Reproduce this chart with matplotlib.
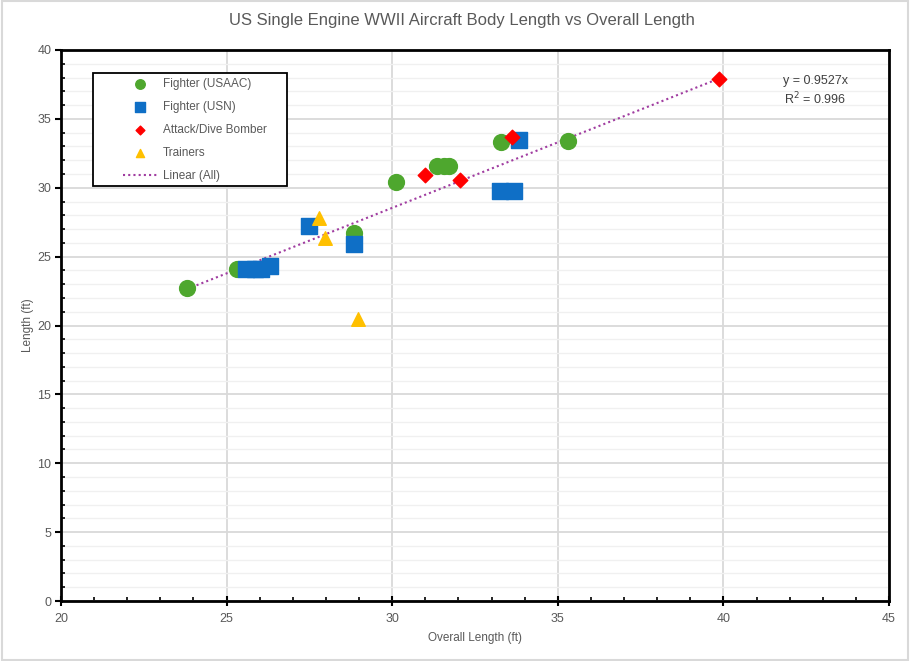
import numpy as np
import matplotlib.pyplot as plt
from matplotlib.patches import Rectangle
from matplotlib.ticker import MultipleLocator

plt.rcParams['font.family'] = ['Liberation Sans', 'DejaVu Sans']

# overall length (x) vs body length (y), in feet
usaac_x = [23.8, 25.3, 28.85, 30.1, 31.35, 31.55, 31.73, 33.3, 35.3]
usaac_y = [22.75, 24.1, 26.75, 30.4, 31.6, 31.6, 31.6, 33.3, 33.4]
usn_x = [25.6, 25.85, 26.05, 26.3, 27.5, 28.85, 33.25, 33.68, 33.83]
usn_y = [24.1, 24.1, 24.1, 24.3, 27.25, 25.95, 29.8, 29.8, 33.45]
bomber_x = [31.0, 32.05, 33.62, 39.87]
bomber_y = [30.95, 30.55, 33.65, 37.9]
trainer_x = [27.8, 27.97, 28.97]
trainer_y = [27.8, 26.35, 20.5]

grey = '#595959'

fig = plt.figure(figsize=(9.1, 6.61), dpi=100)
ax = fig.add_axes([61 / 910, 1 - 601 / 661, 828 / 910, 551 / 661])

ax.scatter(usaac_x, usaac_y, s=130, marker='o', color='#4EA72E', label='Fighter (USAAC)', zorder=3)
ax.scatter(usn_x, usn_y, s=120, marker='s', color='#0F6FC6', label='Fighter (USN)', zorder=3)
ax.scatter(bomber_x, bomber_y, s=55, marker='D', color='#FF0000', label='Attack/Dive Bomber', zorder=4)
ax.scatter(trainer_x, trainer_y, s=95, marker='^', color='#FFC000', label='Trainers', zorder=3)

# linear trend through origin over all points
all_x = np.array(usaac_x + usn_x + bomber_x + trainer_x)
all_y = np.array(usaac_y + usn_y + bomber_y + trainer_y)
slope = (all_x * all_y).sum() / (all_x ** 2).sum()
tx = np.array([all_x.min(), all_x.max()])
ax.plot(tx, slope * tx, ls=(0, (1, 1.5)), color='#A03CA0', lw=1.5, label='Linear (All)', zorder=2)
ax.text(0.911, 0.954, 'y = 0.9527x\nR$^2$ = 0.996', transform=ax.transAxes, ha='center', va='top',
        fontsize=9, color='#404040', linespacing=1.25)

ax.set_xlim(20, 45)
ax.set_ylim(0, 40)
ax.xaxis.set_major_locator(MultipleLocator(5))
ax.xaxis.set_minor_locator(MultipleLocator(1))
ax.yaxis.set_major_locator(MultipleLocator(5))
ax.yaxis.set_minor_locator(MultipleLocator(1))
ax.grid(which='major', color='#D9D9D9', lw=1.3, zorder=0)
ax.grid(which='minor', axis='y', color='#F0F0F0', lw=1.0, zorder=0)
ax.set_axisbelow(True)
ax.tick_params(axis='x', which='major', direction='inout', length=7, width=1.5, colors='black',
               labelcolor=grey, labelsize=9, pad=5)
ax.tick_params(axis='x', which='minor', direction='in', length=3, width=1.2, colors='black')
ax.tick_params(axis='y', which='major', direction='out', length=4, width=1.5, colors='black',
               labelcolor=grey, labelsize=9, pad=3)
ax.tick_params(axis='y', which='minor', direction='in', length=3, width=1.2, colors='black')
for sp in ax.spines.values():
    sp.set_linewidth(2)
    sp.set_color('black')

ax.set_xlabel('Overall Length (ft)', color=grey, fontsize=8.5, labelpad=5)
ax.set_ylabel('Length (ft)', color=grey, fontsize=8.5, labelpad=2)
fig.text(462 / 910, 1 - 21 / 661, 'US Single Engine WWII Aircraft Body Length vs Overall Length',
         ha='center', va='center', fontsize=12, color=grey)

# legend box drawn separately so the entries can sit well inside it
ax.add_patch(Rectangle((0.0386, 0.753), 0.2343, 0.205, transform=ax.transAxes,
                       facecolor='white', edgecolor='black', lw=1.3, zorder=5))
leg = ax.legend(loc='upper left', bbox_to_anchor=(0.0749, 0.949), fontsize=8.5, labelcolor=grey,
                frameon=False, borderpad=0, labelspacing=0.93, handlelength=2.9,
                handletextpad=0.5, borderaxespad=0, markerscale=0.6)
leg.set_zorder(6)

fig.patches.append(Rectangle((0.002, 0.002), 0.996, 0.996, transform=fig.transFigure,
                             fill=False, edgecolor='#D9D9D9', lw=1.5))

fig.savefig('out.png', dpi=100)
